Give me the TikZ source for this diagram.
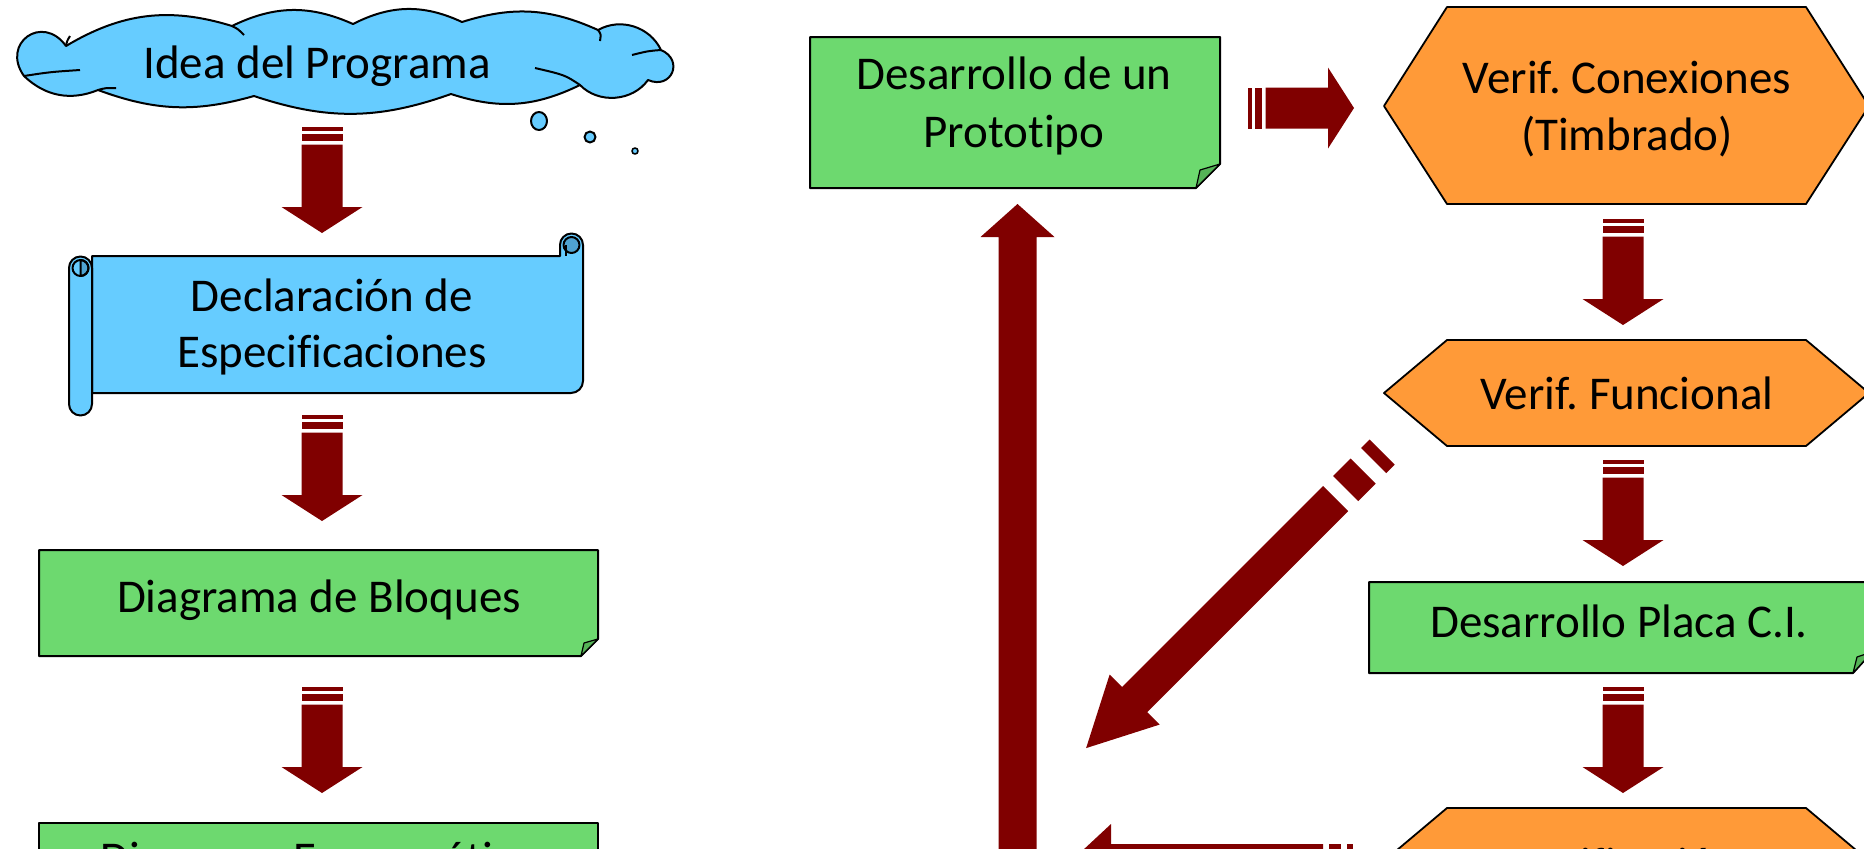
\documentclass[tikz,border=0pt]{standalone}
\usepackage{fontspec}
\setmainfont{Carlito}[Ligatures=CommonOff]
\definecolor{skyb}{HTML}{66CCFF}
\definecolor{skyd}{HTML}{4FA3D1}
\definecolor{leaf}{HTML}{6DD96F}
\definecolor{leafd}{HTML}{55B357}
\definecolor{orng}{HTML}{FF9A38}
\definecolor{maroonx}{HTML}{800000}
\tikzset{
  lbl/.style={font=\fontsize{23.5}{28.5}\selectfont, anchor=base, inner sep=0pt},
  cloudst/.style={draw=black, line width=1pt, fill=skyb},
  scrollst/.style={draw=black, line width=1pt, fill=skyb},
  boxst/.style={draw=black, line width=1pt, fill=leaf},
  foldst/.style={draw=black, line width=0.6pt, fill=leafd},
  hexst/.style={draw=black, line width=0.9pt, fill=orng},
  arrowfill/.style={fill=maroonx},
}
\newcommand\stdarrow[2]{%
  \begin{scope}[shift={(#1)},rotate=#2]
    \fill[arrowfill] (0,-20.5) rectangle (3.5,20.5);
    \fill[arrowfill] (7,-20.5) rectangle (14,20.5);
    \fill[arrowfill] (17.5,-20.5) -- (80,-20.5) -- (80,-40.5) -- (106,0) -- (80,40.5) -- (80,20.5) -- (17.5,20.5) -- cycle;
  \end{scope}}
\begin{document}
\frenchspacing
\begin{tikzpicture}[x=0.5pt,y=-0.5pt,line join=round]
\useasboundingbox (0,0) rectangle (1864,848);
\clip (0,0) rectangle (1864,848);

% ---------- cloud ----------
\draw[cloudst] (66,46) to[bend left=24] (232,26) to[bend left=25] (353,24)
  to[bend left=26] (462,22) to[bend left=21] (598,30) to[bend left=47] (661,50)
  to[bend left=90,looseness=2] (648,80) to[bend left=50] (580,85)
  to[bend left=22] (451,94) to[bend left=19] (254,96) to[bend left=18] (98,90)
  to[bend left=33] (24,76) to[bend left=90,looseness=2] (66,46) -- cycle;
\draw[line width=1pt] (232,26) .. controls (238,29) .. (244,35);
\draw[line width=1pt] (598,30) .. controls (601,34) .. (600,41);
\draw[line width=1pt] (661,50) .. controls (648,51) .. (632,55);
\draw[line width=1pt] (580,85) .. controls (565,75) .. (535,68);
\draw[line width=1pt] (98,90) .. controls (105,88) .. (116,88);
\draw[line width=1pt] (24,76) .. controls (50,72) .. (80,70);
\draw[line width=1pt] (66,46) .. controls (67,41) .. (70,36);
\draw[cloudst] (539,121) ellipse [x radius=8, y radius=9];
\draw[cloudst] (590,137) circle [radius=5.5];
\draw[cloudst,line width=0.8pt] (635,151) circle [radius=3];
\node[lbl] (idea) at (317,78) {Idea del Programa};

% ---------- scroll ----------
\draw[scrollst] (92,393) -- (92,256) -- (560,256) -- (560,245)
  arc[start angle=180,end angle=360,radius=11.5] -- (583,381)
  arc[start angle=0,end angle=90,radius=12] -- cycle;
\draw[scrollst,fill=skyd] (571.5,245) circle [radius=8];
\draw[line width=1pt] (566,245) -- (566,256);
\draw[scrollst] (69,268) arc[start angle=180,end angle=360,radius=11.5] -- (92,404)
  arc[start angle=0,end angle=180,radius=11.5] -- cycle;
\draw[scrollst,fill=skyd] (80.5,260) arc[start angle=270,end angle=450,radius=8] -- cycle;
\draw[line width=1pt] (80.5,268) circle [radius=8];
\node[lbl] (spec1) at (332,311) {Declaración de};
\node[lbl] (spec2) at (332,367) {Especificaciones};

% ---------- left column boxes ----------
\draw[boxst] (39,550) -- (598,550) -- (598,639) -- (581,656) -- (39,656) -- cycle;
\draw[foldst] (598,639) -- (581,656) -- (584,643) -- cycle;
\node[lbl] (bloq) at (319,612) {Diagrama de Bloques};
\draw[boxst] (39,823) -- (598,823) -- (598,960) -- (39,960) -- cycle;
\node[lbl] (esq) at (319,874) {Diagrama Esquemático};

% ---------- prototype box ----------
\draw[boxst] (810,37) -- (1220,37) -- (1220,164) -- (1196,188) -- (810,188) -- cycle;
\draw[foldst] (1220,164) -- (1196,188) -- (1200,170) -- cycle;
\node[lbl] (proto1) at (1014,89) {Desarrollo de un};
\node[lbl] (proto2) at (1014,147) {Prototipo};

% ---------- right column ----------
\draw[hexst] (1384,106) -- (1447,7) -- (1806,7) -- (1869,106) -- (1806,204) -- (1447,204) -- cycle;
\node[lbl] (con1) at (1627,93) {Verif. Conexiones};
\node[lbl] (con2) at (1627,150) {(Timbrado)};
\draw[hexst] (1384,393) -- (1447,340) -- (1806,340) -- (1869,393) -- (1806,446) -- (1447,446) -- cycle;
\node[lbl] (func) at (1627,409) {Verif. Funcional};
\draw[boxst] (1369,582) -- (1872,582) -- (1872,652) -- (1853,673) -- (1369,673) -- cycle;
\draw[foldst] (1872,652) -- (1853,673) -- (1857,657) -- cycle;
\node[lbl] (placa) at (1619,637) {Desarrollo Placa C.I.};
\draw[hexst] (1384,861) -- (1447,808) -- (1806,808) -- (1869,861) -- (1806,914) -- (1447,914) -- cycle;
\node[lbl] (verif) at (1627,880) {Verificación};

% ---------- arrows ----------
\coordinate (a1) at (322,127);
\coordinate (a2) at (322,415);
\coordinate (a3) at (322,687);
\coordinate (a4) at (1623,219);
\coordinate (a5) at (1623,460);
\coordinate (a6) at (1623,687);
\coordinate (a7) at (1248,108);
\stdarrow{a1}{-90}
\stdarrow{a2}{-90}
\stdarrow{a3}{-90}
\stdarrow{a4}{-90}
\stdarrow{a5}{-90}
\stdarrow{a6}{-90}
\stdarrow{a7}{0}

% up arrow (long, into the prototype)
\coordinate (upt) at (1017.5,204);
\fill[arrowfill] (998.5,960) -- (998.5,237) -- (980.5,237) -- (upt) -- (1054.5,237) -- (1036.5,237) -- (1036.5,960) -- cycle;

% diagonal arrow
\coordinate (dg) at (1382.1,452.1);
\begin{scope}[shift={(dg)},rotate=-135]
  \fill[arrowfill] (0,-17.7) rectangle (12,17.7);
  \fill[arrowfill] (26.8,-17.7) rectangle (51.6,17.7);
  \fill[arrowfill] (65.7,-17.7) -- (350,-17.7) -- (350,-35.35) -- (418.6,0) -- (350,35.35) -- (350,17.7) -- (65.7,17.7) -- cycle;
\end{scope}

% bottom left-pointing arrow
\coordinate (bl) at (1353,864);
\begin{scope}[shift={(bl)},rotate=180]
  \fill[arrowfill] (0,-20) rectangle (6,20);
  \fill[arrowfill] (12,-20) rectangle (24,20);
  \fill[arrowfill] (30,-20) -- (242,-20) -- (242,-40) -- (285,0) -- (242,40) -- (242,20) -- (30,20) -- cycle;
\end{scope}
\end{tikzpicture}
\end{document}
